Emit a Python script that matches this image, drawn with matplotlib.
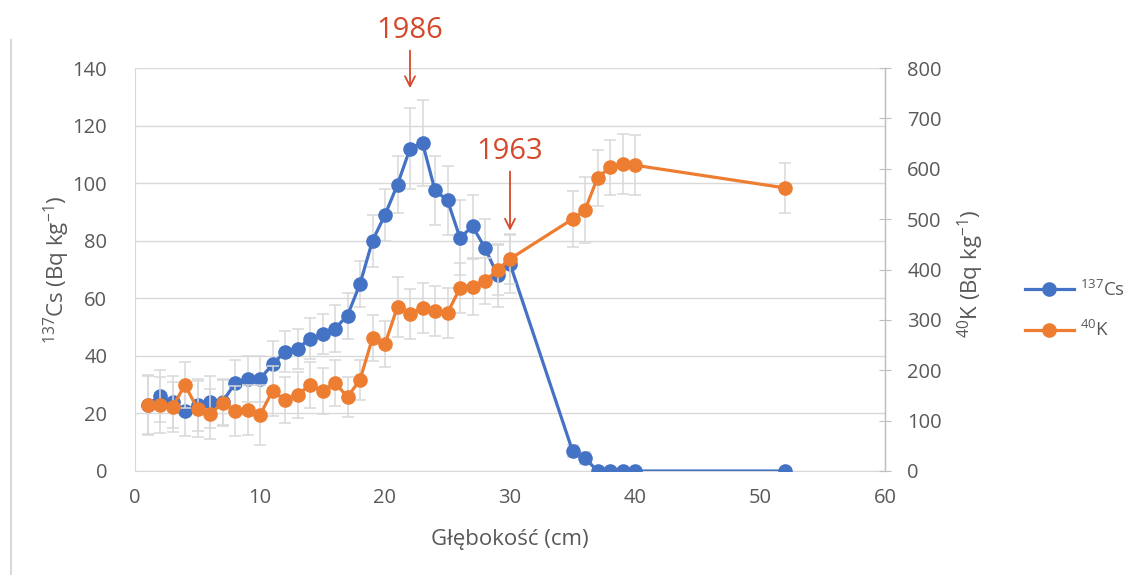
import numpy as np
import matplotlib
matplotlib.use('Agg')
import matplotlib.pyplot as plt
from matplotlib.lines import Line2D

plt.rcParams['font.family'] = ['Open Sans', 'DejaVu Sans']
plt.rcParams['mathtext.fontset'] = 'custom'
plt.rcParams['mathtext.rm'] = 'Open Sans'
plt.rcParams['mathtext.default'] = 'regular'

# --- data ---
depth = [1, 2, 3, 4, 5, 6, 7, 8, 9, 10, 11, 12, 13, 14, 15, 16, 17, 18, 19, 20,
         21, 22, 23, 24, 25, 26, 27, 28, 29, 30, 35, 36, 37, 38, 39, 40, 52]
cs137 = [23, 26, 24, 21, 23, 24, 24, 30.5, 32, 32, 37, 41.5, 42.5, 46, 47.5, 49.5, 54, 65,
         80, 89, 99.5, 112, 114, 97.5, 94, 81, 85, 77.5, 68, 72, 7, 4.5, 0, 0, 0, 0, 0]
cs137_err = [10, 9, 9, 9, 9, 9, 8, 8, 8, 8, 8, 7, 7, 7, 7, 8, 8, 8, 9, 9,
             10, 14, 15, 12, 12, 13, 11, 10, 11, 10, 2, 2, 0, 0, 0, 0, 0]
k40 = [131, 131, 127, 171, 123, 113, 135, 119, 121, 111, 159, 141, 151, 171, 159, 175, 147, 181,
       264, 252, 326, 312, 324, 318, 314, 363, 365, 377, 399, 421, 500, 518, 582, 603, 609, 607, 562]
k40_err = [60, 55, 50, 46, 55, 50, 45, 50, 50, 60, 50, 45, 45, 45, 45, 45, 40, 40,
           45, 45, 60, 50, 50, 50, 50, 50, 55, 45, 50, 50, 55, 65, 55, 55, 60, 60, 50]

BLUE = '#4472C4'
ORANGE = '#ED7D31'
GREY = '#d9d9d9'
TXT = '#595959'
RED = '#d4492b'

fig = plt.figure(figsize=(11.47, 5.75), dpi=100)
ax = fig.add_axes([135 / 1147, 1 - 471 / 575, 750 / 1147, 403 / 575])
ax2 = ax.twinx()

ax.errorbar(depth, cs137, yerr=cs137_err, fmt='none', ecolor=GREY, elinewidth=1.1,
            capsize=4, capthick=1.1, zorder=2)
ax.plot(depth, cs137, color=BLUE, lw=2.3, marker='o', ms=9.5, zorder=3)
ax2.errorbar(depth, k40, yerr=k40_err, fmt='none', ecolor=GREY, elinewidth=1.1,
             capsize=4, capthick=1.1, zorder=2)
ax2.plot(depth, k40, color=ORANGE, lw=2.3, marker='o', ms=9.5, zorder=3)

ax.set_xlim(0, 60)
ax.set_ylim(0, 140)
ax2.set_ylim(0, 800)
ax.set_xticks(range(0, 61, 10))
ax.set_yticks(range(0, 141, 20))
ax2.set_yticks(range(0, 801, 100))

ax.grid(axis='y', color='#d9d9d9', lw=1)
ax.set_axisbelow(True)
ax.spines['top'].set_visible(False)
ax2.spines['top'].set_visible(False)
ax.spines['left'].set_color('#d9d9d9')
ax.spines['bottom'].set_color('#d9d9d9')
ax2.spines['left'].set_visible(False)
ax2.spines['bottom'].set_visible(False)
ax2.spines['right'].set_color('#bfbfbf')

ax.tick_params(axis='x', length=0, labelsize=14.5, labelcolor=TXT, pad=12)
ax.tick_params(axis='y', length=0, labelsize=14.5, labelcolor=TXT, pad=20)
ax2.tick_params(axis='y', direction='inout', length=8, color='#bfbfbf',
                labelsize=14.5, labelcolor=TXT, pad=12)

ax.set_xlabel('Głębokość (cm)', fontsize=16, color=TXT)
ax.xaxis.set_label_coords(0.5, -0.145)
ax.set_ylabel('$^{137}$Cs (Bq kg$^{-1}$)', fontsize=16, color=TXT)
ax.yaxis.set_label_coords(-0.084, 0.5)
ax2.set_ylabel('$^{40}$K (Bq kg$^{-1}$)', fontsize=16, color=TXT)
ax2.yaxis.set_label_coords(1.095, 0.49)

# dating markers
ax.text(22, 153, '1986', color=RED, fontsize=21, ha='center', va='center')
ax.annotate('', xy=(22, 132), xytext=(22, 147), annotation_clip=False,
            arrowprops=dict(arrowstyle='->', color=RED, lw=1.3, mutation_scale=18))
ax.text(30, 111, '1963', color=RED, fontsize=21, ha='center', va='center')
ax.annotate('', xy=(30, 82.5), xytext=(30, 105), annotation_clip=False,
            arrowprops=dict(arrowstyle='->', color=RED, lw=1.3, mutation_scale=18))

handles = [Line2D([], [], color=BLUE, lw=2.3, marker='o', ms=9.5),
           Line2D([], [], color=ORANGE, lw=2.3, marker='o', ms=9.5)]
fig.legend(handles, ['$^{137}$Cs', '$^{40}$K'], loc='center left',
           bbox_to_anchor=(1008 / 1147, 1 - 310 / 575), frameon=False,
           fontsize=13.5, labelcolor=TXT, handlelength=2.6, handletextpad=0.35,
           labelspacing=1.1)

# thin frame line at far left
fig.add_artist(Line2D([11 / 1147, 11 / 1147], [0, 1 - 40 / 575],
                      color='#d9d9d9', lw=1.5))

fig.savefig('out.png', dpi=100)
